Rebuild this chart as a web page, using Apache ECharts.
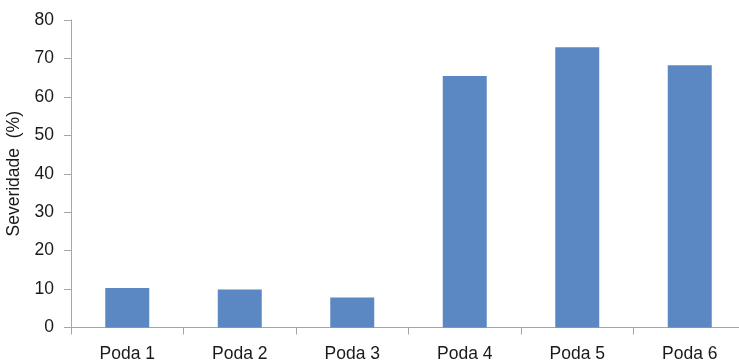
<!DOCTYPE html>
<html>
<head>
    <meta charset="utf-8">
    <title>Severidade</title>
    <script src="https://cdn.jsdelivr.net/npm/echarts@6/dist/echarts.min.js"></script>
    <style>
        html, body { margin: 0; padding: 0; background: #fff; }
    </style>
</head>
<body>
    <div id="main" style="width: 739px;height:360px;"></div>
    <script type="text/javascript">
        // dados
        var categorias = ['Poda 1', 'Poda 2', 'Poda 3', 'Poda 4', 'Poda 5', 'Poda 6'];
        var severidade = [10.3, 9.9, 7.8, 65.4, 72.9, 68.2];
        var yTicks = { min: 0, max: 80, interval: 10 };

        var myChart = echarts.init(document.getElementById('main'));

        var option = {
            backgroundColor: '#ffffff',
            animation: false,
            textStyle: { fontFamily: 'Liberation Sans, Arial, sans-serif' },
            grid: {
                left: 71,
                right: -7,
                top: 20,
                bottom: 32.5,
                containLabel: false,
                outerBoundsMode: 'none'
            },
            xAxis: {
                type: 'category',
                data: categorias,
                axisLine: { lineStyle: { color: '#a6a6a6', width: 1 } },
                axisTick: { show: true, length: 7, lineStyle: { color: '#a6a6a6' } },
                axisLabel: { color: '#1a1a1a', fontSize: 17.5, margin: 18 }
            },
            yAxis: {
                type: 'value',
                min: yTicks.min,
                max: yTicks.max,
                interval: yTicks.interval,
                name: 'Severidade  (%)',
                nameLocation: 'middle',
                nameGap: 44,
                nameTextStyle: { color: '#1a1a1a', fontSize: 17.5 },
                axisLine: { show: true, lineStyle: { color: '#a6a6a6', width: 1 } },
                axisTick: { show: true, length: 7, lineStyle: { color: '#a6a6a6' } },
                splitLine: { show: false },
                axisLabel: { color: '#1a1a1a', fontSize: 17.5, margin: 17 }
            },
            series: [
                {
                    name: 'Severidade',
                    type: 'bar',
                    data: severidade,
                    barWidth: 44,
                    itemStyle: { color: '#5b88c2' }
                }
            ]
        };

        myChart.setOption(option);
    </script>
</body>
</html>
